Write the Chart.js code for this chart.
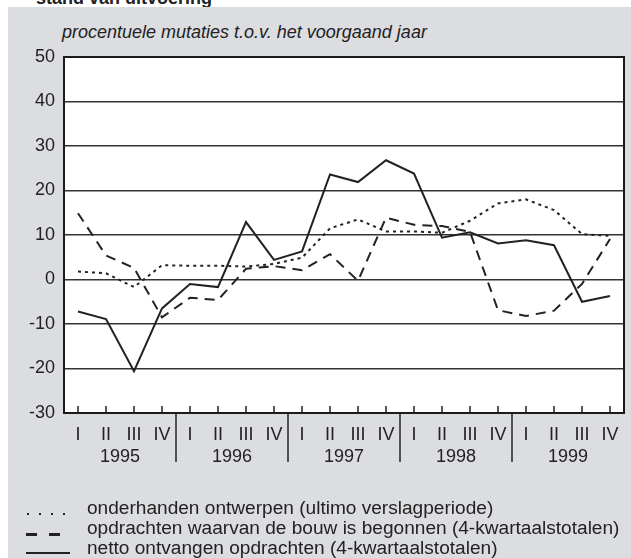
<!DOCTYPE html>
<html><head><meta charset="utf-8">
<script src="https://cdn.jsdelivr.net/npm/chart.js@4"></script>
<style>
html,body{margin:0;padding:0;background:#fff;width:631px;height:558px;overflow:hidden;font-family:"Liberation Sans",Arial,sans-serif;}
#bg{position:absolute;left:8px;top:7px;width:623px;height:551px;background:#dcdde0;}
#c{position:absolute;left:0;top:0;}
.t{position:absolute;white-space:nowrap;color:#222;line-height:20px;font-size:18px;}
.lg{transform:scaleX(1.06);transform-origin:0 50%;}
.s{position:absolute;background:#222;}
</style></head><body>
<div class="t" style="left:36px;top:-12px;font-weight:bold;">stand van uitvoering</div>
<div id="bg"></div>
<div class="t" style="left:62px;top:22px;font-style:italic;">procentuele mutaties t.o.v. het voorgaand jaar</div>
<canvas id="c" width="631" height="558"></canvas>
<div class="s" style="left:27px;top:513px;width:2px;height:2px"></div>
<div class="s" style="left:39px;top:513px;width:2px;height:2px"></div>
<div class="s" style="left:51px;top:513px;width:2px;height:2px"></div>
<div class="s" style="left:63px;top:513px;width:2px;height:2px"></div>
<div class="s" style="left:26px;top:533px;width:11px;height:2.5px"></div>
<div class="s" style="left:49px;top:533px;width:11px;height:2.5px"></div>
<div class="s" style="left:26px;top:552px;width:44px;height:2px"></div>
<div class="t lg" style="left:87px;top:498px;">onderhanden ontwerpen (ultimo verslagperiode)</div>
<div class="t lg" style="left:87px;top:518px;">opdrachten waarvan de bouw is begonnen (4-kwartaalstotalen)</div>
<div class="t lg" style="left:87px;top:538px;">netto ontvangen opdrachten (4-kwartaalstotalen)</div>
<script>
const quarters = ['I','II','III','IV'];
const years = ['1995','1996','1997','1998','1999'];
const categories = [];
years.forEach(() => quarters.forEach(q => categories.push(q)));
const yTicks = [-30,-20,-10,0,10,20,30,40,50];

const onderhanden = [1.8, 1.4, -1.7, 3.2, 3.1, 3.1, 2.9, 3.5, 4.9, 11.5, 13.5, 10.8, 10.8, 10.5, 13.2, 17.1, 18.0, 15.6, 10.2, 9.8];
const begonnen = [14.9, 5.4, 2.6, -8.5, -4.1, -4.6, 2.4, 3.0, 2.1, 5.7, -0.3, 13.9, 12.3, 12.0, 10.7, -6.9, -8.2, -7.0, -1.0, 9.1];
const netto = [-7.2, -8.9, -20.6, -6.5, -1.0, -1.7, 12.9, 4.4, 6.3, 23.6, 21.9, 26.8, 23.8, 9.4, 10.6, 8.1, 8.8, 7.7, -5.0, -3.7];

const FONT = '"Liberation Sans", Arial, sans-serif';
const INK = '#222';

const deco = {
  id: 'deco',
  beforeDraw(chart) {
    const {ctx, chartArea: a} = chart;
    ctx.save();
    ctx.fillStyle = '#fff';
    ctx.fillRect(a.left, a.top, a.right - a.left, a.bottom - a.top);
    ctx.restore();
  },
  afterDraw(chart) {
    const {ctx, chartArea: a} = chart;
    const xs = chart.scales.x;
    ctx.save();
    ctx.strokeStyle = '#1a1a1a';
    ctx.lineWidth = 2;
    ctx.strokeRect(a.left, a.top, a.right - a.left, a.bottom - a.top);
    ctx.lineWidth = 1.5;
    ctx.strokeStyle = INK;
    for (let i = 0; i < categories.length; i++) {
      const x = xs.getPixelForValue(i);
      ctx.beginPath();
      ctx.moveTo(x, a.bottom);
      ctx.lineTo(x, a.bottom - 7);
      ctx.stroke();
    }
    for (let k = 0; k < years.length - 1; k++) {
      const x = (xs.getPixelForValue(4 * k + 3) + xs.getPixelForValue(4 * k + 4)) / 2;
      ctx.beginPath();
      ctx.moveTo(x, a.bottom);
      ctx.lineTo(x, a.bottom + 49);
      ctx.stroke();
    }
    ctx.fillStyle = INK;
    ctx.font = '18px ' + FONT;
    ctx.textAlign = 'center';
    ctx.textBaseline = 'middle';
    years.forEach((y, k) => {
      const x = (xs.getPixelForValue(4 * k + 1) + xs.getPixelForValue(4 * k + 2)) / 2;
      ctx.fillText(y, x, a.bottom + 44);
    });
    ctx.restore();
  }
};

new Chart(document.getElementById('c'), {
  type: 'line',
  data: {
    labels: categories,
    datasets: [
      { label: 'onderhanden ontwerpen (ultimo verslagperiode)', data: onderhanden,
        borderColor: INK, borderWidth: 2, borderDash: [3, 4], pointRadius: 0, tension: 0, fill: false },
      { label: 'opdrachten waarvan de bouw is begonnen (4-kwartaalstotalen)', data: begonnen,
        borderColor: INK, borderWidth: 2, borderDash: [10, 7], pointRadius: 0, tension: 0, fill: false },
      { label: 'netto ontvangen opdrachten (4-kwartaalstotalen)', data: netto,
        borderColor: INK, borderWidth: 2, pointRadius: 0, tension: 0, fill: false }
    ]
  },
  options: {
    responsive: false,
    animation: false,
    events: [],
    layout: { padding: { top: 57, right: 7, left: 0, bottom: 0 } },
    plugins: { legend: { display: false }, tooltip: { enabled: false }, title: { display: false } },
    scales: {
      x: {
        offset: true,
        grid: { display: false },
        border: { display: false },
        ticks: { color: INK, font: { size: 18, family: FONT }, padding: 3, maxRotation: 0, autoSkip: false },
        afterFit(s) { s.height = 145; }
      },
      y: {
        min: -30, max: 50,
        afterBuildTicks(s) { s.ticks = yTicks.map(v => ({ value: v })); },
        grid: { color: '#333', lineWidth: 1.5, drawTicks: false },
        border: { display: false },
        ticks: { color: INK, font: { size: 18, family: FONT }, padding: 9 },
        afterFit(s) { s.width = 64; }
      }
    }
  },
  plugins: [deco]
});
</script>
</body></html>
